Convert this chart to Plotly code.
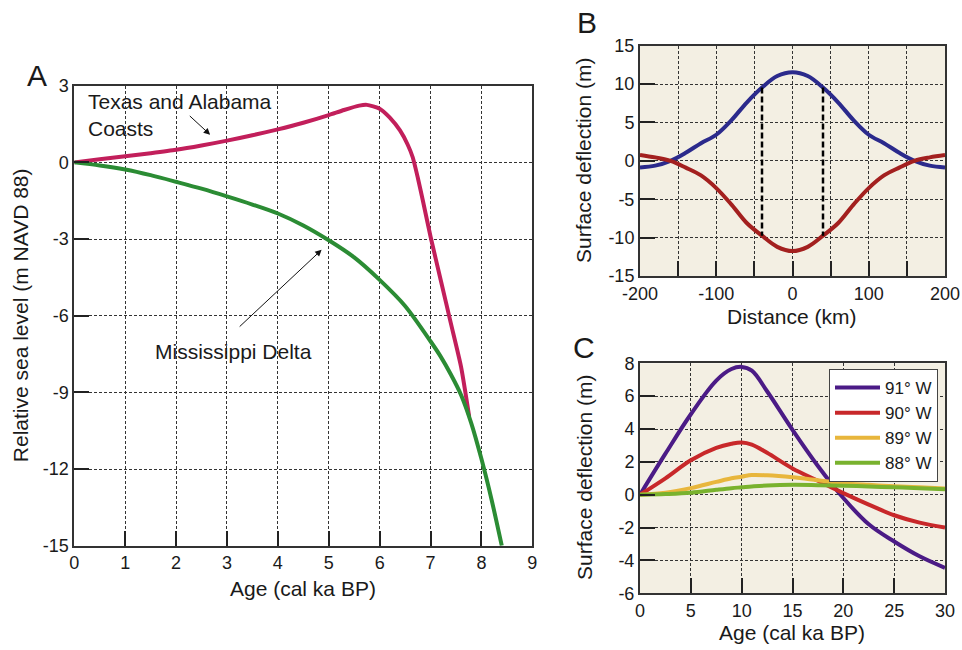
import numpy as np
import plotly.graph_objects as go

W, H = 962, 650
FONT = "Liberation Sans, Arial, Helvetica, sans-serif"
INK = "#1a1a1a"
BEIGE = "#f3efe3"

# ---- Panel A: relative sea level curves ----
age_tx = [0, 0.5, 1, 1.5, 2, 2.5, 3, 3.5, 4, 4.5, 5, 5.3, 5.6, 5.75, 6.0, 6.2,
          6.4, 6.55, 6.65, 6.75, 6.85, 7.0, 7.2, 7.4, 7.6, 7.76]
rsl_tx = [0, 0.12, 0.24, 0.36, 0.49, 0.66, 0.85, 1.06, 1.29, 1.55, 1.85, 2.05,
          2.22, 2.25, 2.1, 1.75, 1.25, 0.7, 0.2, -0.6, -1.5, -2.9, -4.6, -6.3,
          -8.0, -9.95]

age_ms = [0, 0.5, 1, 1.5, 2, 2.5, 3, 3.5, 4, 4.5, 5, 5.5, 6, 6.5, 7, 7.2, 7.4,
          7.6, 7.8, 8.0, 8.2, 8.4]
rsl_ms = [0, -0.12, -0.28, -0.5, -0.76, -1.03, -1.33, -1.65, -2.0, -2.47, -3.05,
          -3.72, -4.6, -5.62, -7.0, -7.6, -8.3, -9.1, -10.2, -11.6, -13.2, -15.0]

# ---- Panel B: flexural deflection profiles ----
dist_km = [-200, -180, -160, -140, -120, -100, -80, -60, -40, -20, 0,
           20, 40, 60, 80, 100, 120, 140, 160, 180, 200]
defl_up = [-0.85, -0.62, 0.0, 1.05, 2.3, 3.4, 5.3, 7.6, 9.55, 11.05, 11.55,
           11.05, 9.55, 7.6, 5.3, 3.4, 2.3, 1.05, 0.0, -0.62, -0.85]
defl_dn = [0.78, 0.45, 0.0, -0.88, -1.9, -3.55, -5.7, -8.1, -9.75, -11.2, -11.75,
           -11.2, -9.75, -8.1, -5.7, -3.55, -1.9, -0.88, 0.0, 0.45, 0.75]
load_edges = [-40, 40]

# ---- Panel C: deflection through time by longitude ----
age_c = [0, 2.5, 5, 7.5, 9, 10, 11, 12.5, 15, 17.5, 20, 22.5, 25, 27.5, 30]
w91 = [0, 2.5, 4.9, 6.95, 7.65, 7.78, 7.55, 6.3, 3.95, 1.75, -0.2, -1.8, -2.85, -3.75, -4.45]
w90 = [0, 1.0, 2.1, 2.85, 3.1, 3.18, 3.05, 2.55, 1.6, 0.85, 0.1, -0.6, -1.25, -1.7, -2.0]
w89 = [0, 0.12, 0.4, 0.78, 1.0, 1.1, 1.2, 1.18, 1.06, 0.88, 0.7, 0.6, 0.52, 0.45, 0.38]
w88 = [0, 0.04, 0.12, 0.3, 0.4, 0.45, 0.5, 0.56, 0.6, 0.58, 0.55, 0.5, 0.45, 0.4, 0.33]
c_names = ["91° W", "90° W", "89° W", "88° W"]
c_colors = ["#4b1b86", "#c8282a", "#e8b63c", "#79b22e"]

# tick positions / labels (plain hyphen minus signs)
ticks_a_x = list(range(0, 10))
ticks_a_y = list(range(-15, 4, 3))
ticks_b_x = [-200, -150, -100, -50, 0, 50, 100, 150, 200]
text_b_x = ["-200", "", "-100", "", "0", "", "100", "", "200"]
ticks_b_y = list(range(-15, 16, 5))
ticks_c_x = list(range(0, 31, 5))
ticks_c_y = list(range(-6, 9, 2))


def px_x(p):
    return p / W


def px_y(p):
    return 1 - p / H


fig = go.Figure()

fig.add_trace(go.Scatter(x=age_tx, y=rsl_tx, mode="lines",
                         line=dict(color="#c21f5b", width=4, shape="spline", smoothing=0.6),
                         xaxis="x", yaxis="y", showlegend=False))
fig.add_trace(go.Scatter(x=age_ms, y=rsl_ms, mode="lines",
                         line=dict(color="#2b8c34", width=4, shape="spline", smoothing=0.8),
                         xaxis="x", yaxis="y", showlegend=False))

fig.add_trace(go.Scatter(x=dist_km, y=defl_up, mode="lines", line=dict(color="#2b2a8c", width=4, shape="spline"),
                         xaxis="x2", yaxis="y2", showlegend=False))
fig.add_trace(go.Scatter(x=dist_km, y=defl_dn, mode="lines", line=dict(color="#a3201f", width=4, shape="spline"),
                         xaxis="x2", yaxis="y2", showlegend=False))
for xe in load_edges:
    y_top = float(np.interp(xe, dist_km, defl_up))
    y_bot = float(np.interp(xe, dist_km, defl_dn))
    fig.add_trace(go.Scatter(x=[xe, xe], y=[y_top, y_bot], mode="lines",
                             line=dict(color="black", width=2.5, dash="6px,3px"),
                             xaxis="x2", yaxis="y2", showlegend=False))

for name, vals, col in zip(c_names, [w91, w90, w89, w88], c_colors):
    fig.add_trace(go.Scatter(x=age_c, y=vals, mode="lines", name=name,
                             line=dict(color=col, width=4, shape="spline"),
                             xaxis="x3", yaxis="y3"))

grid = dict(showgrid=True, gridcolor="#333333", gridwidth=1, griddash="3px,2px",
            zeroline=False, showline=True, linecolor="#333333", linewidth=2, mirror=True,
            ticks="inside", ticklen=15, tickwidth=1.5, tickcolor="#222222", automargin=False,
            tickmode="array", tickfont=dict(size=18, color=INK, family=FONT))


def tk(vals, text=None):
    return dict(tickvals=vals, ticktext=text if text is not None else [str(v) for v in vals])


fig.update_layout(
    width=W, height=H, margin=dict(l=0, r=0, t=0, b=0, autoexpand=False),
    paper_bgcolor="white", plot_bgcolor="white",
    font=dict(family=FONT, color=INK),
    xaxis=dict(domain=[px_x(74.3), px_x(532.3)], anchor="y", range=[0, 9], **tk(ticks_a_x), **grid),
    yaxis=dict(domain=[px_y(545.7), px_y(85.7)], anchor="x", range=[-15, 3], **tk(ticks_a_y), **grid),
    xaxis2=dict(domain=[px_x(640), px_x(945)], anchor="y2", range=[-200, 200],
                **tk(ticks_b_x, text_b_x), **grid),
    yaxis2=dict(domain=[px_y(276), px_y(45.7)], anchor="x2", range=[-15, 15], **tk(ticks_b_y), **grid),
    xaxis3=dict(domain=[px_x(640), px_x(945)], anchor="y3", range=[0, 30], **tk(ticks_c_x), **grid),
    yaxis3=dict(domain=[px_y(593.3), px_y(363.3)], anchor="x3", range=[-6, 8], **tk(ticks_c_y), **grid),
    legend=dict(x=px_x(938), y=px_y(369), xanchor="right", yanchor="top",
                bgcolor="white", bordercolor="#444444", borderwidth=1, itemwidth=45,
                font=dict(size=17, color=INK, family=FONT), tracegroupgap=0),
)

# beige backgrounds for panels B and C
for ax in ["x2", "x3"]:
    yax = "y" + ax[1:]
    fig.add_shape(type="rect", xref=ax + " domain", yref=yax + " domain",
                  x0=0, x1=1, y0=0, y1=1, fillcolor=BEIGE, line_width=0, layer="below")

ann = []


def label(text, x, y, size=21, angle=0, xanchor="center", yanchor="middle", **kw):
    ann.append(dict(text=text, xref="paper", yref="paper", x=px_x(x), y=px_y(y),
                    showarrow=False, textangle=angle, xanchor=xanchor, yanchor=yanchor,
                    font=dict(size=size, color=INK, family=FONT), **kw))


# panel letters
label("A", 36.5, 75, size=30)
label("B", 587, 22, size=30)
label("C", 584, 347, size=30)

# axis titles
label("Age (cal ka BP)", 303, 588)
label("Relative sea level (m NAVD 88)", 20.5, 315.7, angle=-90)
label("Distance (km)", 792, 317)
label("Surface deflection (m)", 584, 161, angle=-90)
label("Age (cal ka BP)", 792, 632)
label("Surface deflection (m)", 584, 478, angle=-90)

# curve labels in panel A
label("Texas and Alabama<br>Coasts", 86, 88, xanchor="left", yanchor="top", align="left")
label("Mississippi Delta", 233.5, 351)

for (x, y, axv, ayv) in [(2.67, 1.08, 2.24, 1.87), (4.86, -3.42, 3.22, -6.48)]:
    ann.append(dict(x=x, y=y, ax=axv, ay=ayv, xref="x", yref="y", axref="x", ayref="y",
                    text="", showarrow=True, arrowhead=2, arrowsize=1.3, arrowwidth=1,
                    arrowcolor="#111111"))

fig.update_layout(annotations=ann)

fig.write_html("out.html")
